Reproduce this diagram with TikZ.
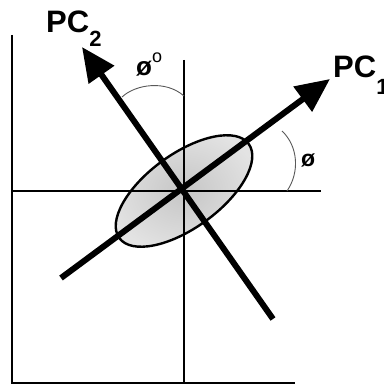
\documentclass[tikz,border=0pt]{standalone}
\usepackage{fontspec}
\setmainfont{Liberation Sans}
\usetikzlibrary{arrows.meta}
\begin{document}
\begin{tikzpicture}[x=1pt,y=-1pt,
  axis/.style={line width=2.8pt},
  pcline/.style={line width=6pt,-{Triangle[length=34pt,width=30pt]}},
  anglearc/.style={gray!70!black,line width=0.9pt},
  pclabel/.style={font=\fontsize{31}{31}\selectfont\bfseries, inner sep=0pt},
  anglelabel/.style={font=\fontsize{23}{23}\selectfont\bfseries, inner sep=0pt}]
\useasboundingbox (0,0) rectangle (383,385);
\coordinate (O) at (184,191);
\coordinate (Ltop) at (12,35);
\coordinate (Lcorner) at (12,383);
\coordinate (Bend) at (295,383);
\coordinate (Vtop) at (184,60);
\coordinate (Vbot) at (184,383);
\coordinate (Hleft) at (12,191);
\coordinate (Hright) at (321,191);
\coordinate (P1s) at (61,278);
\coordinate (P1e) at (330,79);
\coordinate (P2s) at (273,319);
\coordinate (P2e) at (82,47);
% ellipse
\shade[inner color=gray!45, outer color=gray!22, rotate around={36:(O)}] (O) ellipse [x radius=80, y radius=37];
% axes
\draw[axis] (Ltop) -- (Lcorner) -- (Bend);
\draw[axis] (Vtop) -- (Vbot);
\draw[axis] (Hleft) -- (Hright);
\draw[line width=2.4pt, rotate around={36:(O)}] (O) ellipse [x radius=80, y radius=37];
% angle arcs
\coordinate (A1s) at (287,191);
\coordinate (A1e) at (282,131);
\draw[anglearc] (A1s) .. controls (300,172) and (298,146) .. (A1e);
\coordinate (A2s) at (122,97);
\coordinate (A2e) at (184,96);
\draw[anglearc] (A2s) .. controls (136,84) and (166,80) .. (A2e);
% principal components
\draw[pcline] (P1s) -- (P1e);
\draw[pcline] (P2s) -- (P2e);
% labels
\node[pclabel, anchor=base west] (L1) at (333,78) {PC\raisebox{-17pt}{\fontsize{22}{22}\selectfont 1}};
\node[pclabel, anchor=base west] (L2) at (46,33) {PC\raisebox{-14pt}{\fontsize{22}{22}\selectfont 2}};
\node[anglelabel, anchor=base west] (phi) at (301,166) {ø};
\node[anglelabel, font=\fontsize{26}{26}\selectfont\bfseries, anchor=base west] (phio) at (136,76) {ø\raisebox{13pt}{\fontsize{18}{18}\selectfont\mdseries o}};
\end{tikzpicture}
\end{document}
